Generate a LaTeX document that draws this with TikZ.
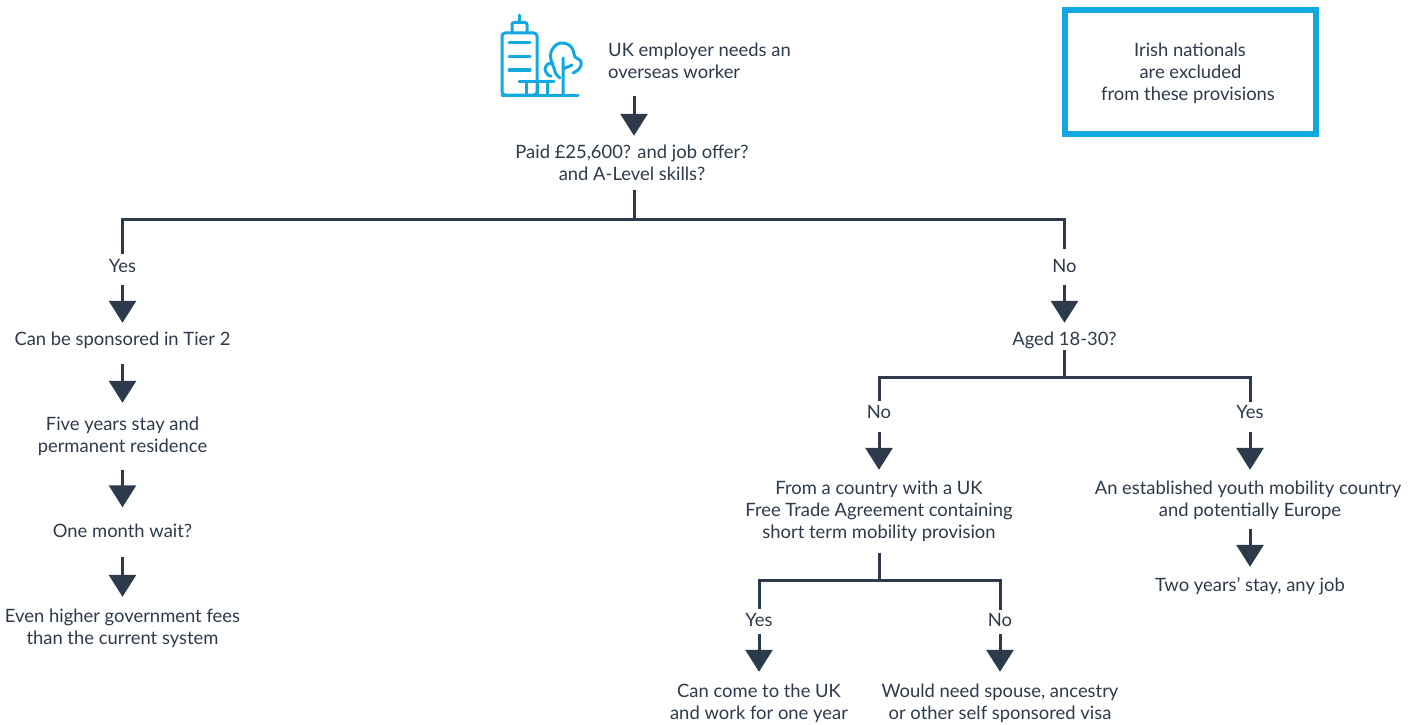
\documentclass[tikz,border=0pt]{standalone}
\usepackage{fontspec}
\setmainfont{Lato}
\usetikzlibrary{arrows.meta}
\definecolor{ink}{HTML}{2D3A4B}
\definecolor{sky}{HTML}{12A9E0}
\newcommand{\lstrut}{\rule[-4.1pt]{0pt}{22pt}}
\tikzset{
  lbl/.style={inner sep=0pt,align=center,text=ink,font=\fontsize{18.4}{22}\selectfont},
  stem/.style={draw=ink,line width=3pt},
  flow/.style={stem,-{Triangle[width=27pt,length=22pt]}},
  icon/.style={draw=sky,line width=3pt,line cap=round,line join=round},
  notebox/.style={lbl,draw=sky,line width=6.5pt,minimum width=251pt,minimum height=124pt}
}
\begin{document}
\begin{tikzpicture}[x=1pt,y=-1pt]
\useasboundingbox (0,0) rectangle (1418,725);
% icon
\draw[icon,rounded corners=3pt] (537,95) -- (537,33) -- (502,33) -- (502,95) -- cycle;
\draw[icon,rounded corners=2pt] (512,33) -- (512,22.5) -- (527,22.5) -- (527,33);
\draw[icon] (519,22) -- (519,15);
\draw[icon] (509,43) -- (530,43) (509,57) -- (530,57) (509,70) -- (530,70);
\draw[icon] (502,95) -- (578,95);
\draw[icon] (519,81) -- (554,81) (526,81) -- (526,95) (537,81) -- (537,95) (547,81) -- (547,95);
\draw[icon] (563,95) -- (563,58) (563,69) -- (572,65);
\draw[icon] plot[smooth,tension=.7] coordinates {(560,78) (556,74) (554,68) (551,60) (551,52) (556,45) (562,43) (569,45) (573,50) (575,57) (580,60) (581,65) (578,70) (573,73)};
\draw[icon] plot[smooth,tension=.7] coordinates {(553,63) (548,64) (545,69) (548,75) (551,76)};
% nodes
\coordinate (start) at (634,96);
\node[lbl,anchor=west,align=left] (uk) at (608,60.5) {\lstrut UK employer needs an\\overseas worker\lstrut};
\node[lbl] (paid) at (632,163) {\lstrut Paid £25,600? and job offer?\\and A-Level skills?\lstrut};
\coordinate (split1) at (634,219);
\node[lbl] (yes1) at (122.5,265.5) {\lstrut Yes};
\node[lbl] (no1) at (1064.5,265.5) {\lstrut No};
\node[lbl] (tier) at (122.5,339) {\lstrut Can be sponsored in Tier 2};
\node[lbl] (five) at (122.5,435) {\lstrut Five years stay and\\permanent residence\lstrut};
\node[lbl] (wait) at (122.5,530.5) {\lstrut One month wait?};
\node[lbl] (fees) at (122.5,626.5) {\lstrut Even higher government fees\\than the current system\lstrut};
\node[lbl] (aged) at (1064.5,339) {\lstrut Aged 18-30?};
\coordinate (split2) at (1064.5,377.5);
\node[lbl] (no2) at (879,412) {\lstrut No};
\node[lbl] (yes2) at (1250,412) {\lstrut Yes};
\node[lbl] (fta) at (879,510) {\lstrut From a country with a UK\\Free Trade Agreement containing\hspace*{4pt}\\short term mobility provision\lstrut};
\node[lbl] (youth) at (1250,499) {\lstrut An established youth mobility country\hspace*{4pt}\\and potentially Europe\lstrut};
\node[lbl] (two) at (1250,585) {\lstrut Two years’ stay, any job};
\coordinate (split3) at (879,580.5);
\node[lbl] (yes3) at (759,620) {\lstrut Yes};
\node[lbl] (no3) at (1000,620) {\lstrut No};
\node[lbl] (come) at (759,702) {\lstrut Can come to the UK\\and work for one year\lstrut};
\node[lbl] (spouse) at (1000,702) {\lstrut Would need spouse, ancestry\\or other self sponsored visa\lstrut};
\node[notebox] (note) at (1190.5,72) {\lstrut Irish nationals\hspace*{1pt}\\are excluded\hspace*{2pt}\\from these provisions\hspace*{5pt}\lstrut};
% connectors
\draw[flow,shorten >=5pt] (start) -- (start |- paid.north);
\draw[stem,shorten <=5pt] (split1 |- paid.south) -- (split1);
\draw[stem,shorten >=5pt] (yes1.north) |- (split1) -| (no1.north);
\draw[flow,shorten <=8.5pt,shorten >=5pt] (yes1.south) -- (tier.north);
\draw[flow,shorten <=8.5pt,shorten >=5pt] (no1.south) -- (aged.north);
\draw[flow,shorten <=14pt,shorten >=10pt] (tier.south) -- (five.north);
\draw[flow,shorten <=13pt,shorten >=12pt] (five.south) -- (wait.north);
\draw[flow,shorten <=15pt,shorten >=7.5pt] (wait.south) -- (fees.north);
\draw[stem] (aged.south) -- (split2);
\draw[stem,shorten >=-1pt] (no2.north) |- (split2) -| (yes2.north);
\draw[flow,shorten <=9pt,shorten >=7pt] (no2.south) -- (fta.north);
\draw[flow,shorten <=9pt,shorten >=7pt] (yes2.south) -- (youth.north);
\draw[flow,shorten <=8pt,shorten >=7pt] (youth.south) -- (two.north);
\draw[stem,shorten <=10pt] (fta.south) -- (split3);
\draw[stem,shorten >=-1pt] (yes3.north) |- (split3) -| (no3.north);
\draw[flow,shorten <=3pt,shorten >=8pt] (yes3.south) -- (come.north);
\draw[flow,shorten <=3pt,shorten >=8pt] (no3.south) -- (spouse.north);
\end{tikzpicture}
\end{document}
